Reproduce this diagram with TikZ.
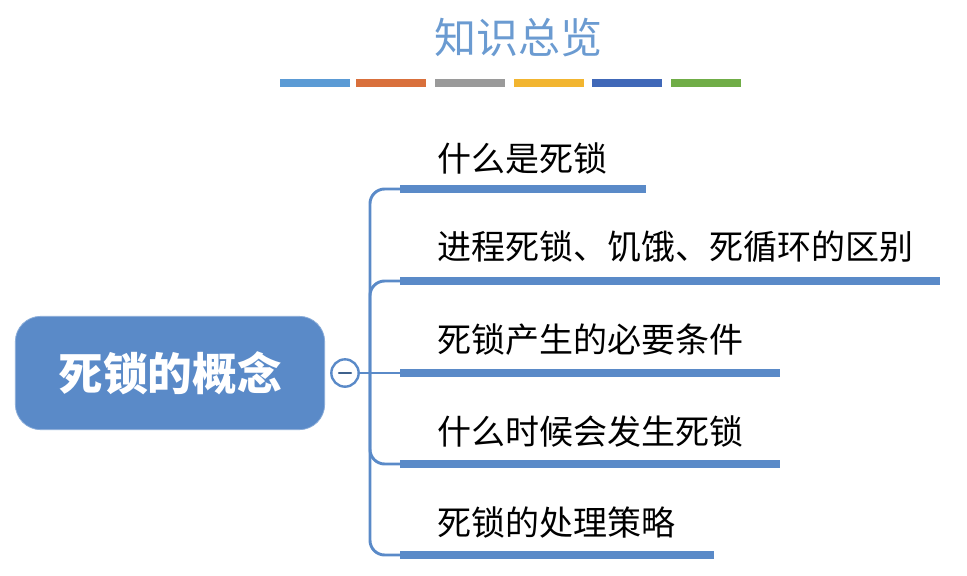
\documentclass[tikz,border=0pt]{standalone}
\usepackage{fontspec}
\setmainfont{Noto Sans CJK SC}
\newfontfamily\cjk{Noto Sans CJK SC}
\definecolor{mainblue}{HTML}{5A8AC8}
\definecolor{titleblue}{HTML}{6B9BD1}
\definecolor{barA}{HTML}{5B9BD5}
\definecolor{barB}{HTML}{D9703C}
\definecolor{barC}{HTML}{9A9A9A}
\definecolor{barD}{HTML}{F2B530}
\definecolor{barE}{HTML}{4068B8}
\definecolor{barF}{HTML}{70AD47}
\begin{document}
\begin{tikzpicture}[x=0.75pt,y=-0.75pt,
  deco/.style={fill=#1, draw=none, minimum height=5.5pt, minimum width=52pt, inner sep=0pt, anchor=west},
  branchbar/.style={fill=mainblue, draw=none, minimum height=6pt, inner sep=0pt, anchor=west},
  branchtext/.style={anchor=west, inner sep=0pt, font=\cjk\fontsize{25.5}{25.5}\selectfont, text=black},
  link/.style={draw=mainblue, line width=2.2pt, rounded corners=11pt}]
\useasboundingbox (0,0) rectangle (967,575);
\node[font=\cjk\fontsize{31.5}{31.5}\selectfont, text=titleblue] (title) at (518,38) {知识总览};
\node[deco=barA] (b1) at (280,83) {};
\node[deco=barB] (b2) at (356,83) {};
\node[deco=barC] (b3) at (435,83) {};
\node[deco=barD] (b4) at (514,83) {};
\node[deco=barE] (b5) at (592,83) {};
\node[deco=barF] (b6) at (671,83) {};
\node[fill=mainblue, draw=mainblue!70!white, line width=0.6pt, rounded corners=19pt, minimum width=232pt, minimum height=85pt, text=white, font=\cjk\bfseries\fontsize{33.5}{33.5}\selectfont] (root) at (170,373) {死锁的概念};
\node[circle, draw=mainblue, line width=1.8pt, fill=white, minimum size=20.5pt, inner sep=0pt] (toggle) at (345,373) {};
\draw[mainblue!70!black, line width=1.8pt, line cap=round] ([xshift=-4.5pt]toggle.center) -- ([xshift=4.5pt]toggle.center);
\coordinate (junc) at (370,373);
\node[branchbar, minimum width=184.5pt] (bar1) at (400,189) {};
\node[branchbar, minimum width=405pt] (bar2) at (400,281) {};
\node[branchbar, minimum width=285pt] (bar3) at (400,373) {};
\node[branchbar, minimum width=285pt] (bar4) at (400,464) {};
\node[branchbar, minimum width=235pt] (bar5) at (400,555) {};
\node[branchtext] (t1) at (437,158) {什么是死锁};
\node[branchtext] (t2) at (437,247) {进程死锁、饥饿、死循环的区别};
\node[branchtext] (t3) at (437,340) {死锁产生的必要条件};
\node[branchtext] (t4) at (437,432) {什么时候会发生死锁};
\node[branchtext] (t5) at (437,522) {死锁的处理策略};
\draw[link] (toggle.east) -- (bar3.west);
\draw[link] (junc) |- (bar1.west);
\draw[link] (junc) |- (bar2.west);
\draw[link] (junc) |- (bar4.west);
\draw[link] (junc) |- (bar5.west);
\end{tikzpicture}
\end{document}
